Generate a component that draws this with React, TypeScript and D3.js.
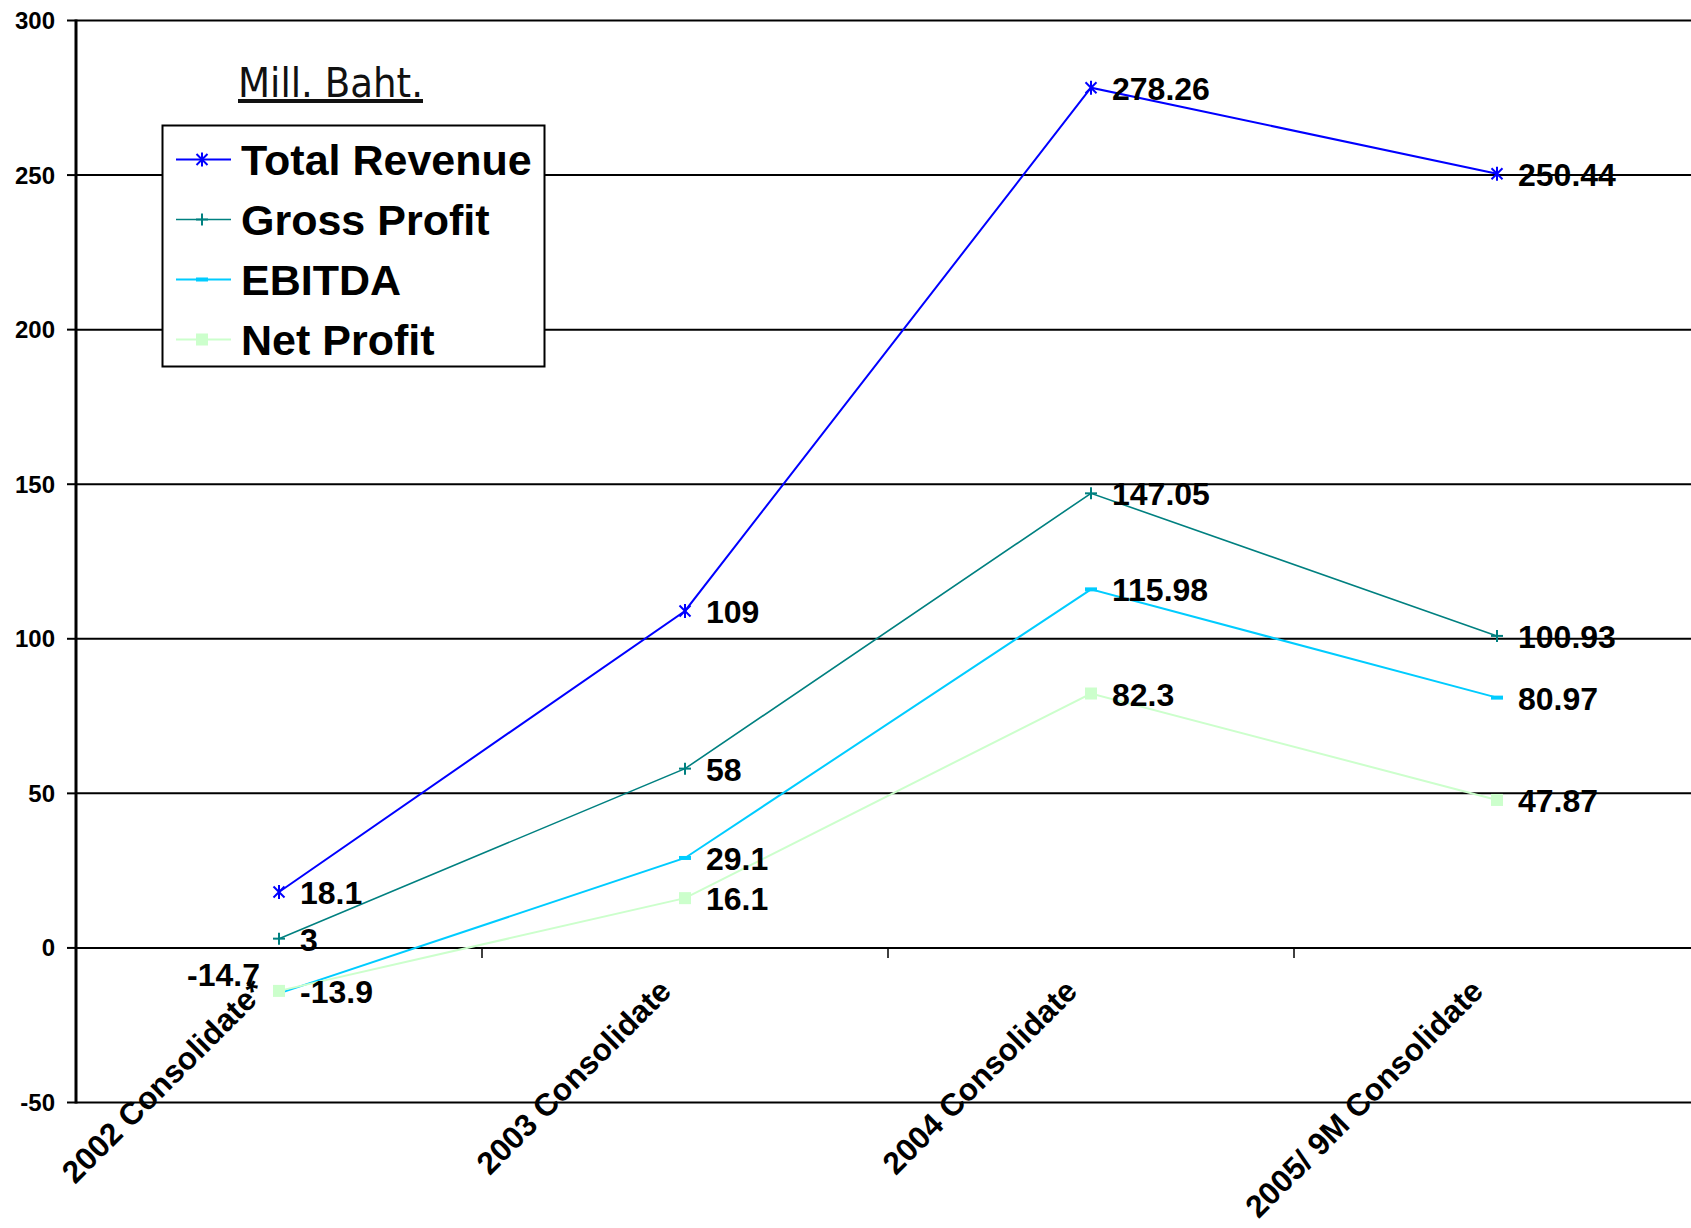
import React from 'react'
import * as d3 from 'd3'

const categories = ['2002 Consolidate*', '2003 Consolidate', '2004 Consolidate', '2005/ 9M Consolidate']
const seriesNames = ['Total Revenue', 'Gross Profit', 'EBITDA', 'Net Profit']
const totalRevenue = [18.1, 109, 278.26, 250.44]
const grossProfit = [3, 58, 147.05, 100.93]
const ebitda = [-14.7, 29.1, 115.98, 80.97]
const netProfit = [-13.9, 16.1, 82.3, 47.87]
const yTicks = [-50, 0, 50, 100, 150, 200, 250, 300]

type Marker = 'star' | 'plus' | 'dash' | 'square'

const series = [
  { name: seriesNames[0], values: totalRevenue, color: '#0000ff', marker: 'star' as Marker, width: 2, labelLeft: [] as number[] },
  { name: seriesNames[1], values: grossProfit, color: '#008080', marker: 'plus' as Marker, width: 1.6, labelLeft: [] as number[] },
  { name: seriesNames[2], values: ebitda, color: '#00ccff', marker: 'dash' as Marker, width: 2, labelLeft: [0] },
  { name: seriesNames[3], values: netProfit, color: '#ccffcc', marker: 'square' as Marker, width: 2, labelLeft: [] as number[] },
]

const width = 1691
const height = 1228
const left = 76
const right = 1700
const top = 20.5
const bottom = 1102.5
const font = '"Liberation Sans", Arial, sans-serif'

function drawMarker(type: Marker, color: string, x: number, y: number, key: string) {
  if (type === 'star') {
    return (
      <g key={key} stroke={color} strokeWidth={2}>
        <line x1={x - 5.5} y1={y - 5.5} x2={x + 5.5} y2={y + 5.5} />
        <line x1={x - 5.5} y1={y + 5.5} x2={x + 5.5} y2={y - 5.5} />
        <line x1={x} y1={y - 7} x2={x} y2={y + 7} />
      </g>
    )
  }
  if (type === 'plus') {
    return (
      <g key={key} stroke={color} strokeWidth={2}>
        <line x1={x - 6} y1={y} x2={x + 6} y2={y} />
        <line x1={x} y1={y - 6} x2={x} y2={y + 6} />
      </g>
    )
  }
  if (type === 'dash') {
    return <rect key={key} x={x - 6} y={y - 2} width={12} height={4} fill={color} />
  }
  return <rect key={key} x={x - 6} y={y - 6} width={12} height={12} fill={color} />
}

const App: React.FunctionComponent = () => {
  const x = d3.scaleBand<string>().domain(categories).range([left, right])
  const y = d3.scaleLinear().domain([-50, 300]).range([bottom, top])
  const cx = (c: string) => (x(c) ?? 0) + x.bandwidth() / 2

  const line = d3
    .line<number>()
    .x((_, i) => cx(categories[i]))
    .y(d => y(d))

  const boundaries = categories.slice(1).map(c => x(c) ?? 0)

  return (
    <div style={{ position: 'absolute', left: 0, top: 0 }}>
      <svg width={width} height={height} style={{ display: 'block', background: '#fff' }}>
        {/* gridlines */}
        {yTicks.map(t => (
          <g key={t}>
            <line x1={left} x2={right} y1={y(t)} y2={y(t)} stroke="#000" strokeWidth={2} />
            <line x1={left - 9} x2={left} y1={y(t)} y2={y(t)} stroke="#000" strokeWidth={2} />
            <text
              x={55}
              y={y(t) + 8.5}
              textAnchor="end"
              fontFamily={font}
              fontWeight="bold"
              fontSize={24}
              fill="#000"
            >
              {t}
            </text>
          </g>
        ))}
        <line x1={left} x2={left} y1={top - 1} y2={bottom + 1} stroke="#000" strokeWidth={3} />
        {boundaries.map(b => (
          <line key={b} x1={b} x2={b} y1={y(0)} y2={y(0) + 10} stroke="#000" strokeWidth={1.5} />
        ))}

        {/* category labels */}
        {categories.map(c => (
          <text
            key={c}
            transform={`translate(${cx(c) - 12},${993}) rotate(-45)`}
            textAnchor="end"
            fontFamily={font}
            fontWeight="bold"
            fontSize={31.5}
            fill="#000"
          >
            {c}
          </text>
        ))}

        {/* series */}
        {series.map(s => (
          <g key={s.name}>
            <path d={line(s.values) ?? ''} fill="none" stroke={s.color} strokeWidth={s.width} />
            {s.values.map((v, i) => drawMarker(s.marker, s.color, cx(categories[i]), y(v), `${s.name}-${i}`))}
          </g>
        ))}

        {/* data labels */}
        {series.map(s =>
          s.values.map((v, i) => {
            const px = cx(categories[i])
            const py = y(v)
            const onLeft = s.labelLeft.includes(i)
            return (
              <text
                key={`${s.name}-l-${i}`}
                x={onLeft ? px - 19 : px + 21}
                y={onLeft ? py - 7 : py + 12}
                textAnchor={onLeft ? 'end' : 'start'}
                fontFamily={font}
                fontWeight="bold"
                fontSize={32}
                fill="#000"
              >
                {v}
              </text>
            )
          }),
        )}

        {/* unit title */}
        <text
          x={238}
          y={97}
          fontFamily='"DejaVu Sans", Verdana, sans-serif'
          fontSize={40}
          textLength={185}
          lengthAdjust="spacingAndGlyphs"
          fill="#111"
          textDecoration="underline"
        >
          Mill. Baht.
        </text>

        {/* legend */}
        <rect x={162.5} y={125.5} width={382} height={241} fill="#fff" stroke="#000" strokeWidth={2} />
        {series.map((s, i) => {
          const ly = 159.5 + i * 60
          return (
            <g key={`legend-${s.name}`}>
              <line x1={176} x2={231} y1={ly} y2={ly} stroke={s.color} strokeWidth={s.width} />
              {drawMarker(s.marker, s.color, 202, ly, `lm-${i}`)}
              <text x={241} y={ly + 15} fontFamily={font} fontWeight="bold" fontSize={43} fill="#000">
                {s.name}
              </text>
            </g>
          )
        })}
      </svg>
    </div>
  )
}

export default App
